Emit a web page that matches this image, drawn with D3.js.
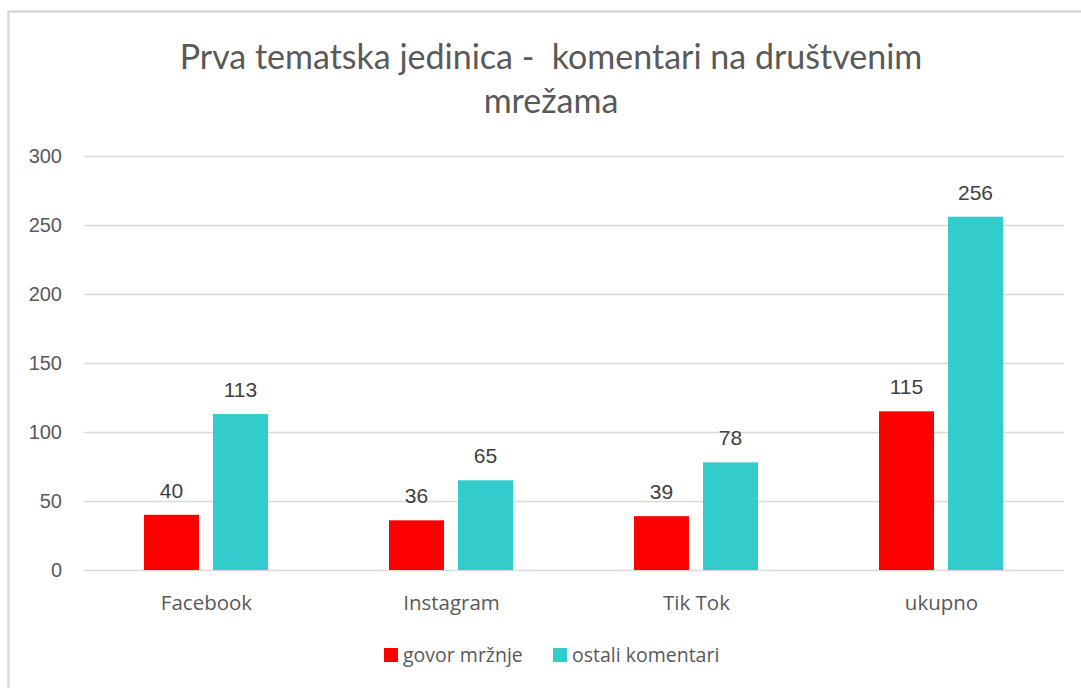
<!DOCTYPE html>
<html><head><meta charset="utf-8">
<script src="https://cdn.jsdelivr.net/npm/d3@7"></script>
<style>body{margin:0;background:#fff;}svg{display:block;}</style>
</head><body>
<svg id="c" width="1081" height="688"></svg>
<script>
const categories = ["Facebook", "Instagram", "Tik Tok", "ukupno"];
const seriesNames = ["govor mržnje", "ostali komentari"];
const govorMrznje = [40, 36, 39, 115];
const ostaliKomentari = [113, 65, 78, 256];
const yTicks = [0, 50, 100, 150, 200, 250, 300];
const colors = ["#ff0000", "#33cccc"];
const titleLines = ["Prva tematska jedinica -  komentari na društvenim", "mrežama"];

(function () {
const svg = d3.select("#c");
svg.append("rect").attr("x", 8.5).attr("y", 11.5).attr("width", 1100).attr("height", 700)
  .attr("fill", "#fff").attr("stroke", "#d9d9d9").attr("stroke-width", 2.5);

const pLeft = 84, pRight = 1064, pTop = 156, pBottom = 570;
const x = d3.scaleBand().domain(categories).range([pLeft, pRight]);
const y = d3.scaleLinear().domain([0, 300]).range([pBottom, pTop]);

svg.append("g").selectAll("line").data(yTicks).join("line")
  .attr("x1", pLeft).attr("x2", pRight)
  .attr("y1", d => y(d) + 0.5).attr("y2", d => y(d) + 0.5)
  .attr("stroke", "#d9d9d9").attr("stroke-width", 1.3);

const yAxis = d3.axisLeft(y).tickValues(yTicks).tickSize(0).tickPadding(0);
const ya = svg.append("g").attr("transform", `translate(62,0)`).call(yAxis);
ya.select(".domain").remove();
ya.selectAll("text").attr("font-family", "Liberation Sans, Arial, sans-serif")
  .attr("font-size", 20).attr("fill", "#595959");

const xAxis = d3.axisBottom(x).tickSize(0).tickPadding(0);
const xa = svg.append("g").attr("transform", `translate(0,${pBottom + 25})`).call(xAxis);
xa.select(".domain").remove();
xa.selectAll("text").attr("font-family", "'Open Sans', sans-serif")
  .attr("font-size", 20.5).attr("fill", "#595959");

const series = [govorMrznje, ostaliKomentari];
const inner = d3.scaleBand().domain([0, 1]).range([60, 60 + 55 * 2 + 14]).paddingInner(14 / 69);

series.forEach((vals, si) => {
  const g = svg.append("g");
  g.selectAll("rect").data(categories).join("rect")
    .attr("x", c => x(c) + inner(si))
    .attr("width", inner.bandwidth())
    .attr("y", (c, i) => y(vals[i]))
    .attr("height", (c, i) => y(0) - y(vals[i]))
    .attr("fill", colors[si]);
  g.selectAll("text").data(categories).join("text")
    .attr("x", c => x(c) + inner(si) + inner.bandwidth() / 2)
    .attr("y", (c, i) => y(vals[i]) - 17)
    .attr("text-anchor", "middle")
    .attr("font-family", "Liberation Sans, Arial, sans-serif")
    .attr("font-size", 21).attr("fill", "#404040")
    .text((c, i) => vals[i]);
});

svg.append("g").selectAll("text").data(titleLines).join("text")
  .attr("x", 551).attr("y", (d, i) => 69 + i * 44)
  .attr("text-anchor", "middle")
  .attr("font-family", "Lato, 'Open Sans', sans-serif")
  .attr("font-size", 34).attr("fill", "#595959")
  .style("white-space", "pre")
  .text(d => d);

const legendX = [384, 553];
const lg = svg.append("g");
seriesNames.forEach((n, i) => {
  lg.append("rect").attr("x", legendX[i]).attr("y", 648).attr("width", 14).attr("height", 14).attr("fill", colors[i]);
  lg.append("text").attr("x", legendX[i] + 19).attr("y", 662)
    .attr("font-family", "'Open Sans', sans-serif")
    .attr("font-size", 19.5).attr("fill", "#595959").text(n);
});
})();
</script>
</body></html>
